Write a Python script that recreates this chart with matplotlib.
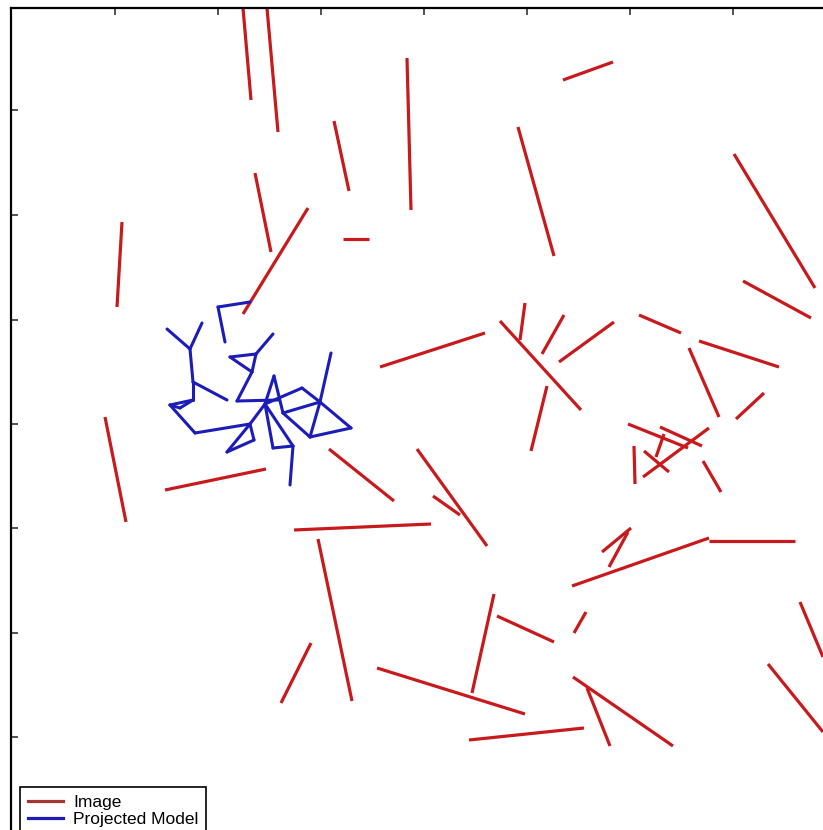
import matplotlib
matplotlib.use("Agg")
import matplotlib.pyplot as plt
from matplotlib.lines import Line2D

# ---- data (image pixel coordinates; y grows downward) ----
# Image line segments: start x, start y, end x, end y
image_x0 = [243, 267, 407, 334, 255, 308, 343, 122, 563, 518, 734,
            105, 165, 329, 294, 318, 380,
            500, 525, 564, 614, 547, 639, 699, 689, 764, 743,
            628, 660, 709, 634, 644, 664, 703, 417, 433,
            602, 609, 572, 709,
            494, 497, 586, 377, 469, 573, 587, 800, 768, 311]
image_y0 = [8, 8, 58, 121, 173, 208, 239, 222, 80, 127, 154,
            417, 490, 449, 530, 539, 367,
            321, 303, 315, 322, 386, 315, 341, 348, 393, 281,
            424, 427, 428, 446, 451, 434, 461, 449, 496,
            552, 567, 586, 541,
            594, 616, 612, 668, 740, 677, 688, 602, 664, 643]
image_x1 = [251, 278, 411, 349, 271, 243, 369, 117, 613, 554, 815,
            126, 266, 394, 431, 352, 485,
            581, 520, 542, 559, 531, 681, 779, 719, 736, 811,
            688, 702, 643, 635, 669, 656, 721, 487, 460,
            631, 628, 709, 795,
            472, 554, 574, 525, 584, 673, 610, 823, 823, 281]
image_y1 = [100, 132, 210, 191, 252, 314, 239, 307, 62, 256, 288,
            522, 469, 501, 524, 701, 333,
            410, 340, 354, 362, 451, 333, 367, 417, 419, 318,
            448, 446, 477, 484, 472, 457, 492, 546, 515,
            528, 532, 538, 541,
            693, 642, 633, 714, 728, 746, 746, 657, 732, 703]

# Projected model: node coordinates and edges
model_x = [218, 250, 225, 167, 202, 190, 193, 227, 193, 170, 180, 195,
           250, 227, 254, 265, 230, 256, 252, 273, 237, 274, 302, 331,
           320, 351, 310, 283, 273, 293, 290, 278]
model_y = [307, 302, 342, 329, 323, 349, 382, 400, 400, 405, 408, 433,
           424, 452, 440, 404, 357, 354, 372, 334, 401, 376, 388, 353,
           402, 428, 437, 413, 448, 446, 485, 400]
model_edges = [(0, 1), (0, 2), (3, 5), (4, 5), (5, 6), (6, 8), (6, 7),
               (8, 9), (9, 10), (10, 8), (9, 11), (11, 12), (12, 13),
               (13, 14), (14, 12), (12, 15), (16, 17), (16, 18), (17, 18),
               (17, 19), (18, 20), (20, 31), (21, 15), (21, 27), (15, 22),
               (22, 24), (23, 24), (24, 26), (24, 25), (25, 26), (26, 27),
               (27, 24), (15, 28), (28, 29), (15, 29), (29, 30)]

legend_labels = ["Image", "Projected Model"]

# ---- style ----
red = "#c81a1c"
blue = "#1c1cb8"
W, H = 823, 830

fig = plt.figure(figsize=(W / 100, H / 100), dpi=100)
x_left, x_right = 11, 850
y_top, y_bot = 8, 860
ax = fig.add_axes([x_left / W, 1 - y_bot / H,
                   (x_right - x_left) / W, (y_bot - y_top) / H])
ax.set_xlim(x_left, x_right)
ax.set_ylim(y_bot, y_top)

for xa, ya, xb, yb in zip(image_x0, image_y0, image_x1, image_y1):
    ax.plot([xa, xb], [ya, yb], color=red, lw=2.3, solid_capstyle="butt")

for a, b in model_edges:
    ax.plot([model_x[a], model_x[b]], [model_y[a], model_y[b]],
            color=blue, lw=2.2, solid_capstyle="round")

ax.set_xticks([115, 218, 321, 424, 527, 630, 733])
ax.set_yticks([110, 215, 320, 424, 528, 633, 737])
ax.tick_params(axis="both", direction="in", length=5, width=1.2,
               color="#333333", labelbottom=False, labelleft=False,
               top=True, bottom=False, left=True, right=False)
for s in ax.spines.values():
    s.set_color("black")
    s.set_linewidth(1.6)

handles = [Line2D([], [], color="#a83434", lw=2.3),
           Line2D([], [], color=blue, lw=2.3)]
leg = fig.legend(handles, legend_labels, loc="upper left",
                 bbox_to_anchor=(20 / W, 1 - 787 / H),
                 bbox_transform=fig.transFigure,
                 fancybox=False, framealpha=1, edgecolor="black",
                 prop={"family": "Liberation Sans", "size": 12.5},
                 handlelength=2.0, handletextpad=0.6, borderpad=0.45,
                 labelspacing=0.12, borderaxespad=0)
leg.get_frame().set_linewidth(1.2)

fig.savefig("out.png", dpi=100)
